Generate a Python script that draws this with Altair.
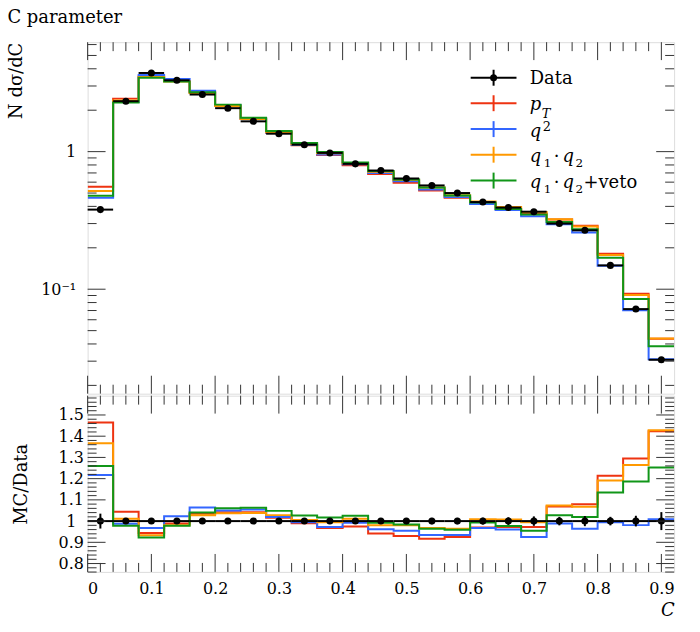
import altair as alt
import pandas as pd

# ---------------- data ----------------
edges = [0.00, 0.04, 0.08, 0.12, 0.16, 0.20, 0.24, 0.28, 0.32, 0.36, 0.40, 0.44,
         0.48, 0.52, 0.56, 0.60, 0.64, 0.68, 0.72, 0.76, 0.80, 0.84, 0.88, 0.92]
centers = [0.02, 0.06, 0.10, 0.14, 0.18, 0.22, 0.26, 0.30, 0.34, 0.38, 0.42, 0.46,
           0.50, 0.54, 0.58, 0.62, 0.66, 0.70, 0.74, 0.78, 0.82, 0.86, 0.90]
data_vals = [0.379, 2.326, 3.73, 3.30, 2.60, 2.07, 1.66, 1.35, 1.124, 0.979, 0.815, 0.729,
             0.638, 0.568, 0.500, 0.430, 0.392, 0.366, 0.300, 0.268, 0.149, 0.0717, 0.0307]
data_err = [0.0133, 0.023, 0.037, 0.033, 0.026, 0.021, 0.017, 0.0135, 0.0135, 0.0117, 0.0098, 0.0095,
            0.0089, 0.0085, 0.0075, 0.0069, 0.0071, 0.0081, 0.006, 0.0064, 0.003, 0.0018, 0.0013]
mc_pt = [0.555, 2.428, 3.521, 3.264, 2.691, 2.157, 1.730, 1.372, 1.113, 0.9467, 0.7946, 0.6867,
         0.5933, 0.5209, 0.4625, 0.4171, 0.3810, 0.3558, 0.3207, 0.2894, 0.1809, 0.09285, 0.04369]
mc_q2 = [0.4612, 2.298, 3.607, 3.376, 2.766, 2.174, 1.751, 1.376, 1.118, 0.9516, 0.8085, 0.7006,
         0.6093, 0.5305, 0.467, 0.4162, 0.3763, 0.3386, 0.2967, 0.2584, 0.1481, 0.07034, 0.03095]
mc_q1q2 = [0.5181, 2.352, 3.480, 3.237, 2.673, 2.147, 1.723, 1.388, 1.130, 0.9741, 0.824, 0.7144,
           0.6252, 0.5493, 0.482, 0.4339, 0.3951, 0.3642, 0.3219, 0.2860, 0.1775, 0.09063, 0.04384]
mc_veto = [0.4772, 2.275, 3.443, 3.227, 2.704, 2.196, 1.765, 1.415, 1.154, 0.9956, 0.8354, 0.7232,
           0.6278, 0.5476, 0.4795, 0.4270, 0.3830, 0.3495, 0.3081, 0.2731, 0.1690, 0.08504, 0.03847]

series = [("pT", mc_pt, "#EE3311"), ("q2", mc_q2, "#3366FF"),
          ("q1q2", mc_q1q2, "#FF9900"), ("veto", mc_veto, "#109618")]

x_major = [0.0, 0.1, 0.2, 0.3, 0.4, 0.5, 0.6, 0.7, 0.8, 0.9]
x_minor = [0.02, 0.04, 0.06, 0.08, 0.12, 0.14, 0.16, 0.18, 0.22, 0.24, 0.26, 0.28,
           0.32, 0.34, 0.36, 0.38, 0.42, 0.44, 0.46, 0.48, 0.52, 0.54, 0.56, 0.58,
           0.62, 0.64, 0.66, 0.68, 0.72, 0.74, 0.76, 0.78, 0.82, 0.84, 0.86, 0.88]
y1_major = [0.1, 1.0]
y1_minor = [0.02, 0.03, 0.04, 0.05, 0.06, 0.07, 0.08, 0.09,
            0.2, 0.3, 0.4, 0.5, 0.6, 0.7, 0.8, 0.9, 2, 3, 4, 5, 6]
y2_major = [0.8, 0.9, 1.0, 1.1, 1.2, 1.3, 1.4, 1.5]
y2_minor = [0.76, 0.78, 0.82, 0.84, 0.86, 0.88, 0.92, 0.94, 0.96, 0.98, 1.02, 1.04, 1.06,
            1.08, 1.12, 1.14, 1.16, 1.18, 1.22, 1.24, 1.26, 1.28, 1.32, 1.34, 1.36, 1.38,
            1.42, 1.44, 1.46, 1.48, 1.52, 1.54, 1.56, 1.58]

leg_rows = ["Data", "pT", "q2", "q1q2", "veto"]
leg_colors = ["black", "#EE3311", "#3366FF", "#FF9900", "#109618"]

# ---------------- layout ----------------
W, H1, H2 = 589, 353, 177
FONT = "DejaVu Serif"
FRAME = "#333333"
MAJ, MIN = 18, 9

x_scale = alt.Scale(domain=[0, 0.92], nice=False, zero=False)
y1_scale = alt.Scale(type="log", domain=[0.01741, 6.245], nice=False)
y2_scale = alt.Scale(domain=[0.7606, 1.591], nice=False, zero=False)

ax_x_top = None
ax_y_top = alt.Axis(values=y1_major, labelExpr="datum.value == 1 ? '1' : '10⁻¹'",
                    ticks=False, domain=False, grid=False, labelFont=FONT, labelFontSize=16,
                    labelPadding=12, labelColor="black",
                    title="N dσ/dC", titleFont=FONT, titleFontSize=18, titleFontWeight="normal",
                    titleColor="black", titleAngle=270, titleX=-80, titleY=0,
                    titleAlign="right", titleBaseline="top")
ax_x_bot = alt.Axis(values=x_major, format=".1~f", ticks=False, domain=False, grid=False,
                    labelFont=FONT, labelFontSize=16, labelPadding=9, labelColor="black",
                    title="C", titleFont=FONT, titleFontSize=18, titleFontWeight="normal",
                    titleFontStyle="italic", titleColor="black", titleX=W, titleY=48,
                    titleAlign="right", titleBaseline="bottom")
ax_y_bot = alt.Axis(values=y2_major, format=".1~f", ticks=False, domain=False, grid=False,
                    labelFont=FONT, labelFontSize=16, labelPadding=17, labelAlign="center",
                    labelColor="black",
                    title="MC/Data", titleFont=FONT, titleFontSize=18, titleFontWeight="normal",
                    titleColor="black", titleAngle=270, titleX=-75, titleY=H2 / 2,
                    titleAlign="center", titleBaseline="top")


def tick_layers(xax, ys, yax, ymaj, ymin, h):
    out = []
    for vals, L in ((x_major, MAJ), (x_minor, MIN)):
        df = pd.DataFrame({"v": vals})
        base = alt.Chart(df).mark_rule(color=FRAME, strokeWidth=1)
        out.append(base.encode(x=alt.X("v:Q", scale=x_scale, axis=xax),
                               y=alt.value(h), y2=alt.value(h - L)))
        out.append(base.encode(x=alt.X("v:Q", scale=x_scale, axis=xax),
                               y=alt.value(0), y2=alt.value(L)))
    for vals, L in ((ymaj, MAJ), (ymin, MIN)):
        df = pd.DataFrame({"v": vals})
        base = alt.Chart(df).mark_rule(color=FRAME, strokeWidth=1)
        out.append(base.encode(y=alt.Y("v:Q", scale=ys, axis=yax),
                               x=alt.value(0), x2=alt.value(L)))
        out.append(base.encode(y=alt.Y("v:Q", scale=ys, axis=yax),
                               x=alt.value(W - L), x2=alt.value(W)))
    return out


# ---------------- tables ----------------
step_frames = []
for name, vals, col in series:
    xs = list(edges)
    ys = list(vals) + [vals[-1]]
    rs = [v / d for v, d in zip(vals, data_vals)]
    rs = rs + [rs[-1]]
    step_frames.append((pd.DataFrame({"x": xs, "y": ys, "r": rs}), col))

dfd = pd.DataFrame({
    "lo": edges[:-1], "hi": edges[1:], "c": centers, "y": data_vals,
    "ylo": [v - e for v, e in zip(data_vals, data_err)],
    "yhi": [v + e for v, e in zip(data_vals, data_err)],
    "r": [1.0] * len(data_vals),
    "rlo": [1 - e / v for v, e in zip(data_vals, data_err)],
    "rhi": [1 + e / v for v, e in zip(data_vals, data_err)],
})

# ---------------- top panel ----------------
top_layers = []
for df, col in step_frames:
    top_layers.append(alt.Chart(df).mark_line(interpolate="step-after", strokeWidth=2,
                                              color=col, clip=True).encode(
        x=alt.X("x:Q", scale=x_scale, axis=ax_x_top),
        y=alt.Y("y:Q", scale=y1_scale, axis=ax_y_top)))

dbase = alt.Chart(dfd)
top_layers.append(dbase.mark_rule(color="black", strokeWidth=2).encode(
    x=alt.X("lo:Q", scale=x_scale, axis=ax_x_top), x2="hi:Q",
    y=alt.Y("y:Q", scale=y1_scale, axis=ax_y_top)))
top_layers.append(dbase.mark_rule(color="black", strokeWidth=2).encode(
    x=alt.X("c:Q", scale=x_scale, axis=ax_x_top),
    y=alt.Y("ylo:Q", scale=y1_scale, axis=ax_y_top), y2="yhi:Q"))
top_layers.append(dbase.mark_circle(color="black", size=50, opacity=1).encode(
    x=alt.X("c:Q", scale=x_scale, axis=ax_x_top),
    y=alt.Y("y:Q", scale=y1_scale, axis=ax_y_top)))

top_layers += tick_layers(ax_x_top, y1_scale, ax_y_top, y1_major, y1_minor, H1)

# legend (pixel positions inside the plot area)
leg_y = [35.7, 61.3, 87.3, 113.0, 139.0]
leg_df = pd.DataFrame({"name": leg_rows, "col": leg_colors, "y": leg_y,
                       "x1": [384.7] * 5, "x2": [430.7] * 5, "xc": [407.7] * 5,
                       "ya": [v - 8 for v in leg_y], "yb": [v + 8 for v in leg_y]})
top_layers.append(alt.Chart(leg_df).mark_rule(strokeWidth=2).encode(
    x=alt.X("x1:Q", scale=None, axis=None), x2="x2:Q",
    y=alt.Y("y:Q", scale=None, axis=None), color=alt.Color("col:N", scale=None, legend=None)))
top_layers.append(alt.Chart(leg_df).mark_rule(strokeWidth=2).encode(
    x=alt.X("xc:Q", scale=None, axis=None),
    y=alt.Y("ya:Q", scale=None, axis=None), y2="yb:Q",
    color=alt.Color("col:N", scale=None, legend=None)))
top_layers.append(alt.Chart(leg_df.iloc[:1]).mark_circle(color="black", size=50, opacity=1).encode(
    x=alt.X("xc:Q", scale=None, axis=None), y=alt.Y("y:Q", scale=None, axis=None)))

txt_norm = pd.DataFrame({
    "t": ["Data", "2", "1", "·", "2", "1", "·", "2", "+veto"],
    "x": [444, 457, 458, 468, 490, 458, 468, 490, 498],
    "y": [42, 89, 125, 120, 125, 151, 146, 151, 146],
    "fs": [18, 13, 12, 18, 12, 12, 18, 12, 18],
})
txt_ital = pd.DataFrame({
    "t": ["p", "T", "q", "q", "q", "q", "q"],
    "x": [444, 456, 444, 444, 477, 444, 477],
    "y": [68, 76, 95, 120, 120, 146, 146],
    "fs": [18, 13, 18, 18, 18, 18, 18],
})
for df, style in ((txt_norm, "normal"), (txt_ital, "italic")):
    top_layers.append(alt.Chart(df).mark_text(align="left", baseline="alphabetic", font=FONT,
                                              fontStyle=style, color="black").encode(
        x=alt.X("x:Q", scale=None, axis=None), y=alt.Y("y:Q", scale=None, axis=None),
        text="t:N", size=alt.Size("fs:Q", scale=None, legend=None)))

top = alt.layer(*top_layers).properties(width=W, height=H1)

# ---------------- ratio panel ----------------
bot_layers = []
for df, col in step_frames:
    bot_layers.append(alt.Chart(df).mark_line(interpolate="step-after", strokeWidth=2,
                                              color=col, clip=True).encode(
        x=alt.X("x:Q", scale=x_scale, axis=ax_x_bot),
        y=alt.Y("r:Q", scale=y2_scale, axis=ax_y_bot)))
bot_layers.append(dbase.mark_rule(color="black", strokeWidth=2).encode(
    x=alt.X("lo:Q", scale=x_scale, axis=ax_x_bot), x2="hi:Q",
    y=alt.Y("r:Q", scale=y2_scale, axis=ax_y_bot)))
bot_layers.append(dbase.mark_rule(color="black", strokeWidth=2).encode(
    x=alt.X("c:Q", scale=x_scale, axis=ax_x_bot),
    y=alt.Y("rlo:Q", scale=y2_scale, axis=ax_y_bot), y2="rhi:Q"))
bot_layers.append(dbase.mark_circle(color="black", size=50, opacity=1).encode(
    x=alt.X("c:Q", scale=x_scale, axis=ax_x_bot),
    y=alt.Y("r:Q", scale=y2_scale, axis=ax_y_bot)))
bot_layers += tick_layers(ax_x_bot, y2_scale, ax_y_bot, y2_major, y2_minor, H2)

bot = alt.layer(*bot_layers).properties(width=W, height=H2)

chart = alt.vconcat(top, bot, spacing=0, title=alt.Title(
    "C parameter", anchor="start", font=FONT, fontSize=18, fontWeight="normal",
    color="black", offset=14)).properties(
    padding={"left": 7, "top": 8, "right": 24, "bottom": 12},
).configure_view(stroke=FRAME, strokeWidth=1.2).configure(background="white")

chart.save("out.html", embed_options={"renderer": "svg", "actions": False})
